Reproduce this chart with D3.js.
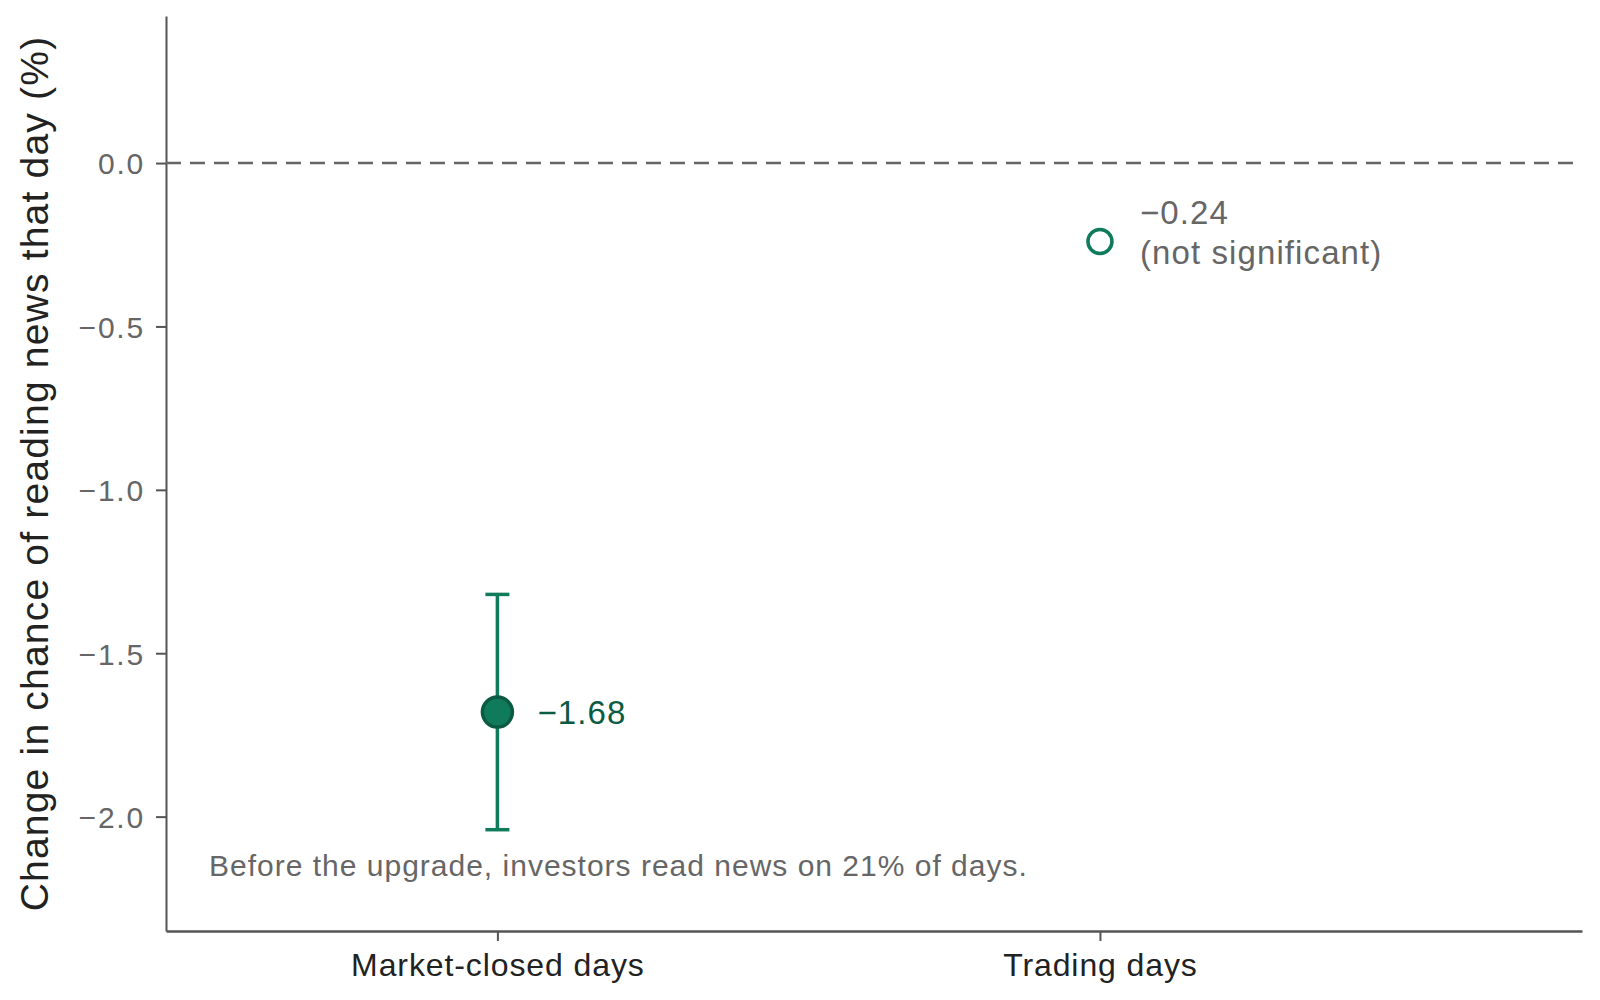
<!DOCTYPE html>
<html>
<head>
<meta charset="utf-8">
<script src="https://cdn.jsdelivr.net/npm/d3@7"></script>
<style>
  body { margin: 0; background: #fff; }
  svg { display: block; font-family: "Liberation Sans", Arial, sans-serif; }
</style>
</head>
<body>
<svg id="chart"></svg>
<script>
// data
const categories = ["Market-closed days", "Trading days"];
const estimates = [-1.68, -0.24];
const ciLow = [-2.04, null];
const ciHigh = [-1.32, null];
const significant = [true, false];
const pointLabels = [["\u22121.68"], ["\u22120.24", "(not significant)"]];
const yTicks = [0, -0.5, -1.0, -1.5, -2.0];
const note = "Before the upgrade, investors read news on 21% of days.";
const yTitle = "Change in chance of reading news that day (%)";

const width = 1600, height = 1000;
const margin = { top: 16, right: 18, bottom: 69, left: 166 };

const green = "#0f7b5a";
const darkGreen = "#0b5a42";
const grey = "#666666";

const svg = d3.select("#chart").attr("width", width).attr("height", height);

const x = d3.scaleLinear()
  .domain([0.45, 2.8])
  .range([margin.left, width - margin.right]);

const y = d3.scaleLinear()
  .domain([-2.35, 0.45])
  .range([height - margin.bottom, margin.top]);

const fmt = d => d3.format(".1f")(d).replace("-", "\u2212");

// y axis
const yAxis = svg.append("g")
  .attr("transform", `translate(${margin.left},0)`)
  .call(d3.axisLeft(y).tickValues(yTicks).tickFormat(fmt).tickSize(10).tickSizeOuter(0).tickPadding(11));
yAxis.select(".domain").attr("stroke", "#555").attr("stroke-width", 2);
yAxis.selectAll(".tick line").attr("stroke", "#555").attr("stroke-width", 2);
yAxis.selectAll(".tick text").attr("fill", grey).attr("font-size", 30).attr("dy", "0.36em")
  .style("font-family", "Liberation Sans, Arial, sans-serif")
  .style("letter-spacing", "1.8px");

// x axis
const xAxis = svg.append("g")
  .attr("transform", `translate(0,${height - margin.bottom})`)
  .call(d3.axisBottom(x).tickValues([1, 2]).tickFormat(d => categories[d - 1]).tickSize(10).tickSizeOuter(0).tickPadding(6));
xAxis.select(".domain").attr("stroke", "#555").attr("stroke-width", 2.5);
xAxis.selectAll(".tick line").attr("stroke", "#555").attr("stroke-width", 2);
xAxis.selectAll(".tick text").attr("fill", "#222").attr("font-size", 32).attr("dy", "0.9em")
  .style("font-family", "Liberation Sans, Arial, sans-serif")
  .style("letter-spacing", "0.9px");

// zero reference line
svg.append("line")
  .attr("x1", margin.left).attr("x2", width - margin.right)
  .attr("y1", y(0)).attr("y2", y(0))
  .attr("stroke", grey).attr("stroke-width", 2.5)
  .attr("stroke-dasharray", "15 9");

// y axis title
svg.append("text")
  .attr("transform", `translate(48,${(margin.top + height - margin.bottom) / 2}) rotate(-90)`)
  .attr("text-anchor", "middle")
  .attr("fill", "#222")
  .attr("font-size", 39)
  .style("letter-spacing", "1.2px")
  .text(yTitle);

const pts = categories.map((c, i) => ({
  i, c, est: estimates[i], lo: ciLow[i], hi: ciHigh[i], sig: significant[i], lab: pointLabels[i]
}));

// error bars
const eb = svg.append("g").selectAll("g")
  .data(pts.filter(d => d.lo !== null))
  .join("g")
    .attr("stroke", green)
    .attr("stroke-width", 3.5);
eb.append("line")
  .attr("x1", d => x(d.i + 1)).attr("x2", d => x(d.i + 1))
  .attr("y1", d => y(d.lo)).attr("y2", d => y(d.hi));
eb.append("line")
  .attr("x1", d => x(d.i + 1) - 12).attr("x2", d => x(d.i + 1) + 12)
  .attr("y1", d => y(d.lo)).attr("y2", d => y(d.lo));
eb.append("line")
  .attr("x1", d => x(d.i + 1) - 12).attr("x2", d => x(d.i + 1) + 12)
  .attr("y1", d => y(d.hi)).attr("y2", d => y(d.hi));

// points
svg.append("g").selectAll("circle")
  .data(pts)
  .join("circle")
    .attr("cx", d => x(d.i + 1))
    .attr("cy", d => y(d.est))
    .attr("r", d => d.sig ? 15 : 12)
    .attr("fill", d => d.sig ? green : "#fff")
    .attr("stroke", d => d.sig ? darkGreen : green)
    .attr("stroke-width", 3.5);

// point labels
svg.append("g").selectAll("text")
  .data(pts)
  .join("text")
    .attr("x", d => x(d.i + 1) + 40)
    .attr("y", d => d.lab.length > 1 ? y(d.est) - 29 : y(d.est))
    .attr("fill", d => d.sig ? darkGreen : grey)
    .attr("font-size", 33)
    .style("letter-spacing", "1.1px")
  .selectAll("tspan")
  .data(d => d.lab)
  .join("tspan")
    .attr("x", function () { return d3.select(this.parentNode).attr("x"); })
    .attr("dy", (_, i) => i ? "1.2em" : "0.35em")
    .text(d => d);

// note
svg.append("text")
  .attr("x", 209)
  .attr("y", 876)
  .attr("fill", grey)
  .attr("font-size", 30)
  .style("letter-spacing", "1px")
  .text(note);
</script>
</body>
</html>
